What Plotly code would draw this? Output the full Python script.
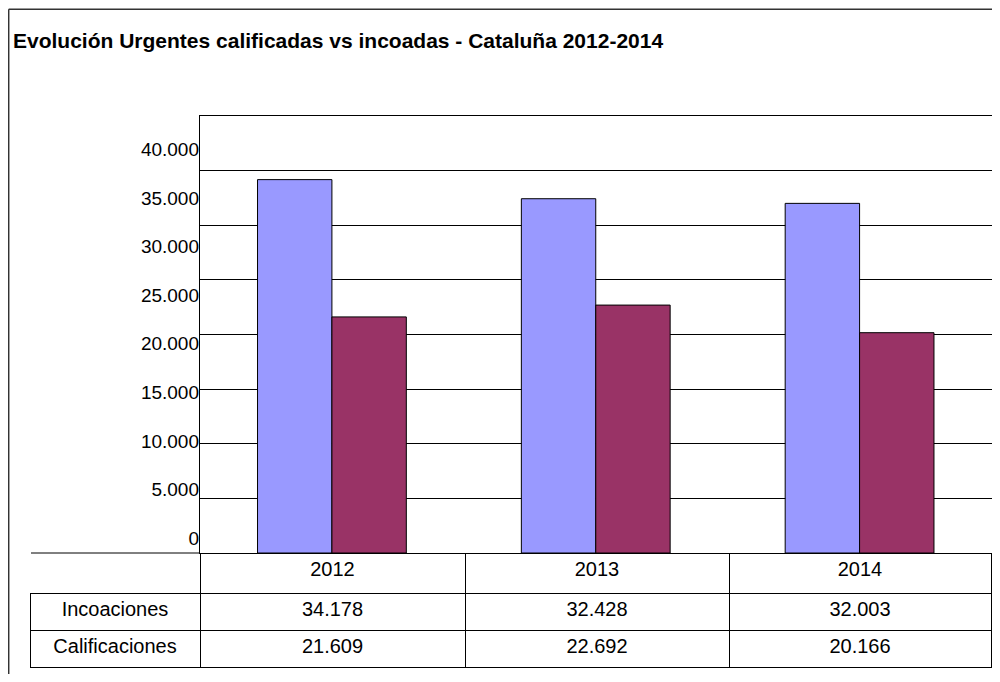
import plotly.graph_objects as go

# data
years = ["2012", "2013", "2014"]
incoaciones = [34178, 32428, 32003]
calificaciones = [21609, 22692, 20166]
y_ticks = [0, 5000, 10000, 15000, 20000, 25000, 30000, 35000, 40000]

BLUE = "#9999FF"
MAROON = "#993366"
FONT = "Liberation Sans, Arial, sans-serif"

# the page puts the figure 8px in from the window corner;
# keep it small enough that the page does not scroll
OFF = 8
W, H = 1000 - 2 * OFF, 682 - 2 * OFF


def es_num(v):
    return f"{v:,}".replace(",", ".")


def px_x(p):
    return min(1.0, (p - OFF) / W)


def px_y(p):
    return max(0.0, 1 - (p - OFF) / H)


fig = go.Figure()

fig.add_trace(go.Bar(
    x=years, y=incoaciones, name="Incoaciones",
    marker=dict(color=BLUE, line=dict(color="black", width=1)),
    hoverinfo="skip"
))
fig.add_trace(go.Bar(
    x=years, y=calificaciones, name="Calificaciones",
    marker=dict(color=MAROON, line=dict(color="black", width=1)),
    hoverinfo="skip"
))

# invisible trace so the label axis (y2) gets drawn
fig.add_trace(go.Scatter(
    x=years, y=incoaciones, yaxis="y2", mode="markers",
    marker=dict(opacity=0), showlegend=False, hoverinfo="skip"
))

# data table under the plot
fig.add_trace(go.Table(
    domain=dict(x=[px_x(30), px_x(991.5)], y=[px_y(672), px_y(553)]),
    columnwidth=[170, 265, 264, 262],
    header=dict(
        values=[""] + years,
        fill_color=["rgba(0,0,0,0)", "white", "white", "white"],
        line=dict(color=["rgba(0,0,0,0)", "black", "black", "black"], width=1),
        font=dict(family=FONT, size=20, color="black"),
        align="center",
        height=40,
    ),
    cells=dict(
        values=[["Incoaciones", "Calificaciones"]]
        + [[es_num(a), es_num(b)] for a, b in zip(incoaciones, calificaciones)],
        fill_color="white",
        line=dict(color="black", width=1),
        font=dict(family=FONT, size=20, color="black"),
        align="center",
        height=37,
    ),
))

fig.update_layout(
    width=W, height=H,
    paper_bgcolor="white", plot_bgcolor="white",
    separators=",.",
    barmode="group", bargap=0.436, bargroupgap=0,
    showlegend=False,
    margin=dict(l=0, r=0, t=0, b=0),
    title=dict(
        text="<b>Evolución Urgentes calificadas vs incoadas - Cataluña 2012-2014</b>",
        font=dict(family=FONT, size=21, color="black"),
        x=px_x(13), xanchor="left", xref="container",
        y=px_y(41), yanchor="middle", yref="container",
    ),
    xaxis=dict(
        domain=[px_x(200), px_x(991.5)],
        showticklabels=False, showgrid=False, zeroline=False,
        showline=True, linecolor="black", linewidth=1, mirror=True,
        ticks="",
    ),
    yaxis=dict(
        domain=[px_y(553), px_y(116)],
        range=[0, 40000], tickvals=y_ticks, showticklabels=False,
        showgrid=True, gridcolor="black", gridwidth=1, zeroline=False,
        showline=True, linecolor="black", linewidth=1, mirror=True,
        ticks="",
    ),
    # tick labels sit on their own, slightly tighter scale, as in the original
    yaxis2=dict(
        overlaying="y", side="left", anchor="x",
        range=[-1544, 43449], tickvals=y_ticks, tickformat=",d",
        showgrid=False, zeroline=False, showline=False, ticks="",
        ticklabelstandoff=0,
        tickfont=dict(family=FONT, size=19, color="black"),
    ),
    shapes=[
        # outer chart frame (left and top edges)
        dict(type="line", xref="paper", yref="paper",
             x0=px_x(8.7), x1=1.05, y0=px_y(9.3), y1=px_y(9.3),
             line=dict(color="#333333", width=1.5)),
        dict(type="line", xref="paper", yref="paper",
             x0=px_x(8.7), x1=px_x(8.7), y0=-0.05, y1=px_y(9.3),
             line=dict(color="#333333", width=1.5)),
        # baseline running into the table's first column
        dict(type="line", xref="paper", yref="paper",
             x0=px_x(31), x1=px_x(200), y0=px_y(553), y1=px_y(553),
             line=dict(color="black", width=1)),
    ],
)

fig.write_html("out.html")
